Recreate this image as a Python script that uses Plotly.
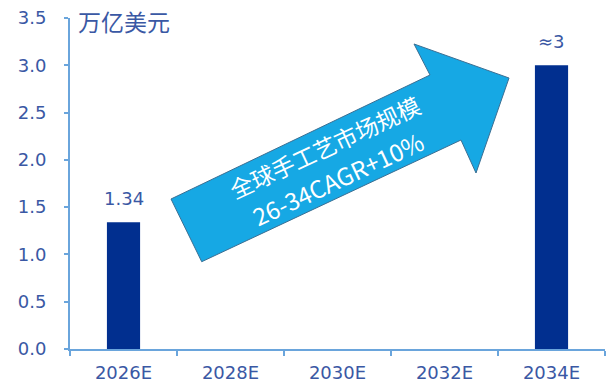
import plotly.graph_objects as go

# Market size, trillion USD
years = ["2026E", "2028E", "2030E", "2032E", "2034E"]
values = [1.34, None, None, None, 3.0]
value_labels = ["1.34", None, None, None, "≈3"]
y_ticks = [0.0, 0.5, 1.0, 1.5, 2.0, 2.5, 3.0, 3.5]

unit_text = "万亿美元"
arrow_line1 = "全球手工艺市场规模"
arrow_line2 = "26-34CAGR+10%"

W, H = 607, 388
ML, MR, MT, MB = 70, 2, 18, 39
PW, PH = W - ML - MR, H - MT - MB

BAR = "#012f8f"
AXIS = "#6aa5dc"
TEXT = "#3a58a4"
ARROW = "#16a8e4"
FONT = "DejaVu Sans"


def px_to_paper(x, y):
    return (x - ML) / PW, (H - MB - y) / PH


fig = go.Figure(
    go.Bar(
        x=years,
        y=values,
        marker=dict(color=BAR, line=dict(width=0)),
        width=0.31,
        hoverinfo="skip",
    )
)

# value labels above bars
for yr, v, lab in zip(years, values, value_labels):
    if v is None or lab is None:
        continue
    fig.add_annotation(
        x=yr, y=v, text=lab, showarrow=False,
        xanchor="center", yanchor="bottom", yshift=11,
        font=dict(family=FONT, size=18, color=TEXT),
    )

# unit label
ux, uy = px_to_paper(76, 21)
fig.add_annotation(
    x=ux, y=uy, xref="paper", yref="paper", text=unit_text, showarrow=False,
    xanchor="left", yanchor="middle",
    font=dict(family="Noto Sans CJK SC", size=23, color=TEXT),
)

# growth arrow
pts = [(171, 199), (430, 75), (414, 44), (509, 78), (476, 173), (461, 140), (201.7, 261.7)]
pp = [px_to_paper(x, y) for x, y in pts]
path = "M " + " L ".join(f"{x:.4f},{y:.4f}" for x, y in pp) + " Z"
fig.add_shape(
    type="path", path=path, xref="paper", yref="paper",
    fillcolor=ARROW, line=dict(color="#3b6f93", width=1), layer="above",
)

for (cx, cy), txt, fs in [((324, 147), arrow_line1, 23), ((337, 178), arrow_line2, 24)]:
    ax_, ay_ = px_to_paper(cx, cy)
    fig.add_annotation(
        x=ax_, y=ay_, xref="paper", yref="paper", text=txt, showarrow=False,
        xanchor="center", yanchor="middle", textangle=-25,
        font=dict(family="Noto Sans CJK SC", size=fs, color="white"),
    )

fig.update_layout(
    width=W, height=H,
    margin=dict(l=ML, r=MR, t=MT, b=MB),
    plot_bgcolor="white", paper_bgcolor="white",
    showlegend=False,
    xaxis=dict(
        type="category", categoryorder="array", categoryarray=years,
        range=[-0.5, 4.5],
        showline=True, linecolor=AXIS, linewidth=2,
        ticks="outside", tickson="boundaries", ticklen=5, tickcolor=AXIS, tickwidth=2,
        showgrid=False, zeroline=False,
        tickfont=dict(family=FONT, size=18, color=TEXT),
        ticklabelstandoff=6,
    ),
    yaxis=dict(
        range=[0, 3.5], tickvals=y_ticks, tickformat=".1f",
        showline=True, linecolor=AXIS, linewidth=2,
        ticks="outside", ticklen=4, tickcolor=AXIS, tickwidth=2,
        showgrid=False, zeroline=False,
        tickfont=dict(family=FONT, size=18, color=TEXT),
        ticklabelstandoff=14,
    ),
)

fig.write_html("out.html")
